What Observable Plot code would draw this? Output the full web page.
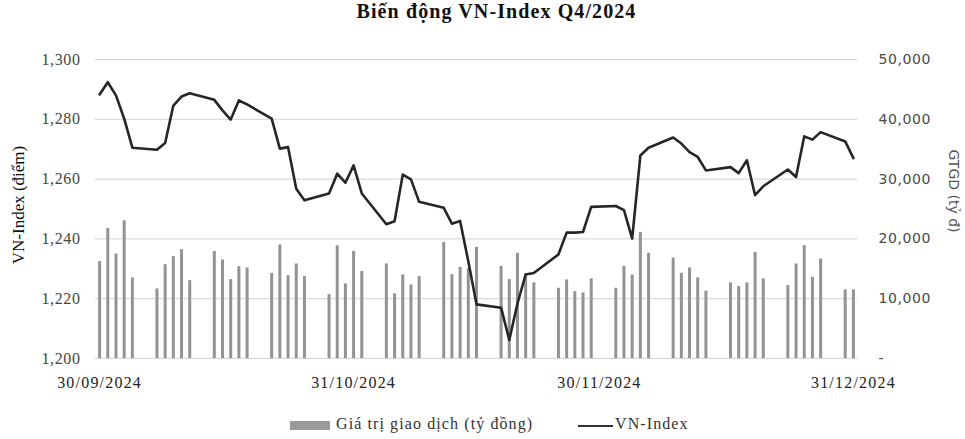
<!DOCTYPE html>
<html>
<head>
<meta charset="utf-8">
<script src="https://cdn.jsdelivr.net/npm/d3@7"></script>
<script src="https://cdn.jsdelivr.net/npm/@observablehq/plot@0.6"></script>
<style>
  html, body { margin: 0; padding: 0; background: #fff; }
  #wrap { width: 965px; height: 439px; position: relative; overflow: hidden; background: #fff; }
  #title { height: 38px; line-height: 36px; text-align: center; padding-left: 28px; box-sizing: border-box;
           font: bold 20px "Liberation Serif", "Times New Roman", serif; color: #111; letter-spacing: 1.1px; }
  #legend { position: relative; height: 36px; font: 16px "Liberation Serif", serif; color: #333; }
  #legend .sw { position: absolute; }
  #legend .lb { position: absolute; top: 12px; white-space: nowrap; letter-spacing: 1.1px; }
</style>
</head>
<body>
<div id="wrap">
  <div id="title">Biến động VN-Index Q4/2024</div>
  <div id="chart"></div>
  <div id="legend">
    <div class="sw" style="left:290px; top:18px; width:40px; height:9px; background:#9a9a9a;"></div>
    <div class="lb" style="left:336px;">Giá trị giao dịch (tỷ đồng)</div>
    <div class="sw" style="left:578px; top:22px; width:35px; height:2px; background:#333;"></div>
    <div class="lb" style="left:615px;">VN-Index</div>
  </div>
</div>
<script>
// Trading days Q4/2024
const dates = [
  "2024-09-30","2024-10-01","2024-10-02","2024-10-03","2024-10-04",
  "2024-10-07","2024-10-08","2024-10-09","2024-10-10","2024-10-11",
  "2024-10-14","2024-10-15","2024-10-16","2024-10-17","2024-10-18",
  "2024-10-21","2024-10-22","2024-10-23","2024-10-24","2024-10-25",
  "2024-10-28","2024-10-29","2024-10-30","2024-10-31","2024-11-01",
  "2024-11-04","2024-11-05","2024-11-06","2024-11-07","2024-11-08",
  "2024-11-11","2024-11-12","2024-11-13","2024-11-14","2024-11-15",
  "2024-11-18","2024-11-19","2024-11-20","2024-11-21","2024-11-22",
  "2024-11-25","2024-11-26","2024-11-27","2024-11-28","2024-11-29",
  "2024-12-02","2024-12-03","2024-12-04","2024-12-05","2024-12-06",
  "2024-12-09","2024-12-10","2024-12-11","2024-12-12","2024-12-13",
  "2024-12-16","2024-12-17","2024-12-18","2024-12-19","2024-12-20",
  "2024-12-23","2024-12-24","2024-12-25","2024-12-26","2024-12-27",
  "2024-12-30","2024-12-31"
];
// VN-Index (điểm)
const vnIndex = [
  1288.3, 1292.4, 1288.0, 1280.2, 1270.5,
  1269.8, 1272.1, 1284.6, 1287.6, 1288.7,
  1286.5, 1283.0, 1279.9, 1286.3, 1285.0,
  1280.2, 1270.2, 1270.7, 1256.8, 1252.9,
  1255.2, 1261.8, 1258.8, 1264.6, 1255.2,
  1244.9, 1245.9, 1261.5, 1259.9, 1252.4,
  1250.4, 1245.1, 1246.0, 1232.5, 1218.1,
  1217.0, 1206.2, 1218.4, 1228.1, 1228.6,
  1234.8, 1242.1, 1242.1, 1242.3, 1250.7,
  1251.0, 1249.6, 1240.1, 1267.9, 1270.5,
  1273.9, 1271.9, 1269.0, 1267.4, 1262.9,
  1264.0, 1262.0, 1266.3, 1254.6, 1257.6,
  1263.2, 1260.7, 1274.3, 1273.2, 1275.7,
  1272.6, 1267.0
];
// Giá trị giao dịch (tỷ đồng)
const volume = [
  16200, 21750, 17480, 23040, 13470,
  11630, 15690, 17030, 18200, 13020,
  17910, 16470, 13190, 15360, 15140,
  14240, 18980, 13860, 15810, 13690,
  10680, 18860, 12470, 17910, 14570,
  15810, 10800, 13970, 12300, 13690,
  19420, 14020, 15240, 15000, 18580,
  15410, 13190, 17580, 14140, 12640,
  11740, 13140, 11190, 10970, 13310,
  11740, 15410, 13970, 21090, 17580,
  16810, 14240, 15140, 13470, 11240,
  12640, 12020, 12640, 17750, 13310,
  12190, 15810, 18860, 13580, 16640,
  11470, 11470
];
const yTicks = [1200, 1220, 1240, 1260, 1280, 1300];
const yRightTicks = [0, 10000, 20000, 30000, 40000, 50000];
const xTickDates = ["2024-09-30", "2024-10-31", "2024-11-30", "2024-12-31"];
const xTickLabels = ["30/09/2024", "31/10/2024", "30/11/2024", "31/12/2024"];

const parse = s => new Date(s + "T00:00:00Z");
const data = dates.map((d, i) => ({date: parse(d), idx: vnIndex[i], vol: volume[i]}));
// map trading value onto the index scale (0..50,000 -> 1,200..1,300)
const volToY = v => 1200 + v / 500;
const xLabelMap = new Map(xTickDates.map((d, i) => [+parse(d), xTickLabels[i]]));
const rightLabelMap = new Map(yRightTicks.map(v => [volToY(v), v === 0 ? "-" : d3.format(",")(v)]));

const chart = Plot.plot({
  width: 965,
  height: 365,
  marginLeft: 95,
  marginRight: 108,
  marginTop: 21,
  marginBottom: 45,
  style: {background: "white", fontFamily: "Liberation Serif, serif"},
  x: {type: "utc", domain: [new Date("2024-09-29T12:00:00Z"), new Date("2024-12-31T12:00:00Z")]},
  y: {domain: [1200, 1300]},
  marks: [
    Plot.ruleY(yTicks, {stroke: "#d2d2d2", strokeWidth: 1}),
    Plot.ruleX(data, {x: "date", y1: 1200, y2: d => volToY(d.vol), stroke: "#939393", strokeWidth: 3}),
    Plot.line(data, {x: "date", y: "idx", stroke: "#262626", strokeWidth: 2.6, strokeLinejoin: "round"}),
    Plot.axisY({ticks: yTicks, tickSize: 0, tickPadding: 15, tickFormat: d3.format(","), label: null,
                fontSize: 16, fill: "#3f4742", fontFamily: "Liberation Serif, serif"}),
    Plot.axisY({anchor: "right", ticks: yRightTicks.map(volToY), tickSize: 0, tickPadding: 21, label: null,
                tickFormat: t => rightLabelMap.get(t), fontSize: 14, fill: "#4a4a4a", fontFamily: "DejaVu Sans, sans-serif"}),
    Plot.axisX({ticks: xTickDates.map(parse), tickSize: 0, tickPadding: 18, label: null,
                tickFormat: d => xLabelMap.get(+d), fontSize: 16, fill: "#222", fontFamily: "Liberation Serif, serif"}),
    Plot.text(["VN-Index (điểm)"], {frameAnchor: "left", textAnchor: "middle", dx: -77, dy: -4, rotate: -90,
                fontSize: 17, fill: "#111", fontFamily: "Liberation Serif, serif"}),
    Plot.text(["GTGD (tỷ đ)"], {frameAnchor: "right", textAnchor: "middle", dx: 96, dy: -18, rotate: 90,
                fontSize: 14, fill: "#555", fontFamily: "DejaVu Sans, sans-serif"})
  ]
});
d3.select(chart).selectAll('g[aria-label="x-axis tick label"] text').style("letter-spacing", "1.2px");
d3.select(chart).selectAll('g[aria-label="y-axis tick label"] text').style("letter-spacing", "0.6px");
document.getElementById("chart").appendChild(chart);
</script>
</body>
</html>
